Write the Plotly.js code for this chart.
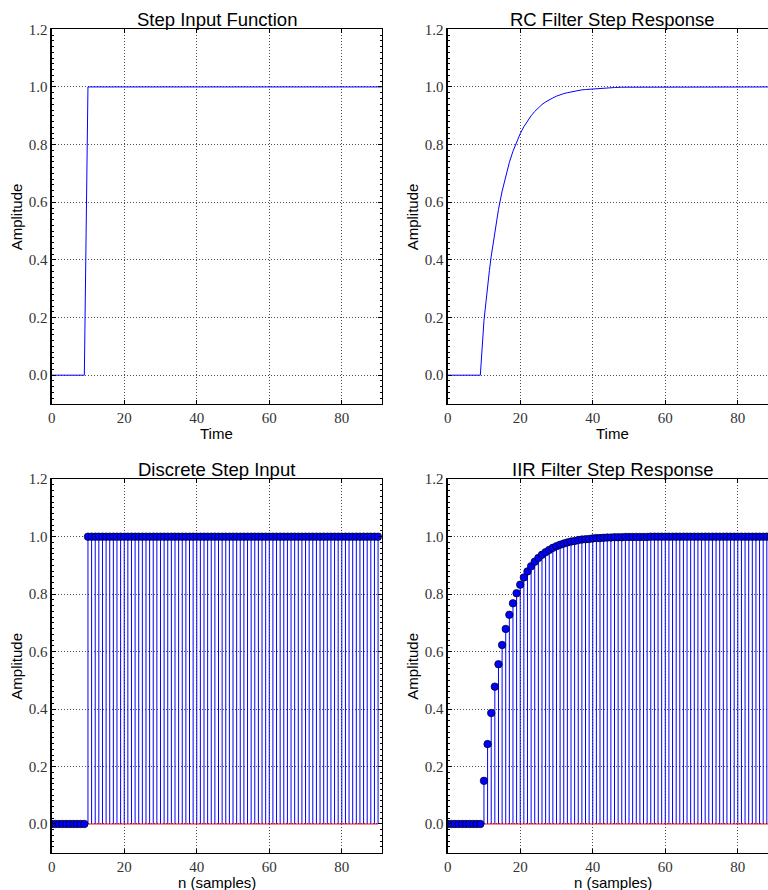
<!DOCTYPE html>
<html>
<head>
<meta charset="utf-8">
<script src="https://cdn.plot.ly/plotly-3.0.1.min.js"></script>
<style>
html,body{margin:0;padding:0;overflow:hidden;background:#fff;width:768px;height:890px;}
#chart{width:800px;height:890px;}
</style>
</head>
<body>
<div id="chart"></div>
<script>
// ---------- data ----------
var titles = ["Step Input Function", "RC Filter Step Response", "Discrete Step Input", "IIR Filter Step Response"];
var xLabels = ["Time", "Time", "n (samples)", "n (samples)"];
var yLabel = "Amplitude";
var xTicks = [0, 20, 40, 60, 80];
var yTicks = [0.0, 0.2, 0.4, 0.6, 0.8, 1.0, 1.2];

// continuous step (corner points)
var stepT = [0, 9, 10, 91];
var stepY = [0, 0, 1, 1];

// continuous RC response
var rcT = [0, 9, 10, 10.5, 11, 11.5, 12, 12.5, 13, 13.5, 14, 15, 16, 17, 18, 19, 20, 21, 22, 23, 24, 25, 26, 27, 28, 29, 30,
           31, 32, 33, 34, 35, 36, 37, 38, 39, 40, 42, 44, 46, 48, 50, 55, 60, 70, 80, 91];
var rcY = [0, 0, 0.189, 0.252, 0.310, 0.363, 0.413, 0.458, 0.500, 0.539, 0.575, 0.638, 0.692, 0.738, 0.777, 0.810, 0.838, 0.862, 0.883,
           0.900, 0.915, 0.928, 0.939, 0.948, 0.956, 0.962, 0.968, 0.973, 0.977, 0.980, 0.983, 0.986, 0.988,
           0.990, 0.991, 0.992, 0.994, 0.995, 0.997, 0.998, 0.999, 0.999, 1.0, 1.0, 1.0, 1.0, 1.0];

// discrete samples
var nSamples = [0,1,2,3,4,5,6,7,8,9,10,11,12,13,14,15,16,17,18,19,20,21,22,23,24,25,26,27,28,29,
                30,31,32,33,34,35,36,37,38,39,40,41,42,43,44,45,46,47,48,49,50,51,52,53,54,55,56,57,58,59,
                60,61,62,63,64,65,66,67,68,69,70,71,72,73,74,75,76,77,78,79,80,81,82,83,84,85,86,87,88,89,90];
var discreteStep = [0,0,0,0,0,0,0,0,0,0,
                    1,1,1,1,1,1,1,1,1,1, 1,1,1,1,1,1,1,1,1,1, 1,1,1,1,1,1,1,1,1,1, 1,1,1,1,1,1,1,1,1,1,
                    1,1,1,1,1,1,1,1,1,1, 1,1,1,1,1,1,1,1,1,1, 1,1,1,1,1,1,1,1,1,1, 1,1,1,1,1,1,1,1,1,1, 1];
var iirResponse = [0,0,0,0,0,0,0,0,0,0,
                   0.150,0.278,0.386,0.478,0.556,0.623,0.679,0.728,0.768,0.803,
                   0.833,0.858,0.879,0.897,0.913,0.926,0.937,0.946,0.954,0.961,
                   0.967,0.972,0.976,0.980,0.983,0.985,0.988,0.990,0.991,0.992,
                   0.994,0.995,0.995,0.996,0.997,0.997,0.998,0.998,0.998,0.999,
                   0.999,0.999,0.999,0.999,0.999,0.999,1,1,1,1,
                   1,1,1,1,1,1,1,1,1,1, 1,1,1,1,1,1,1,1,1,1, 1,1,1,1,1,1,1,1,1,1, 1];

// ---------- layout geometry ----------
var W = 800, H = 890;
var colsPx = [[51.7, 381.7], [447.7, 777.7]];
var rowsPx = [[29.3, 404.0], [479.2, 852.7]];
function xd(c){ return [colsPx[c][0]/W, colsPx[c][1]/W]; }
function yd(r){ return [1 - rowsPx[r][1]/H, 1 - rowsPx[r][0]/H]; }

var tickFont = {family: "Liberation Serif, DejaVu Serif, serif", size: 15, color: "#333"};

function xaxisDef(c, r, anchor){
  return {
    domain: xd(c), anchor: anchor, range: [0, 91],
    tickvals: xTicks, ticktext: xTicks.map(String),
    ticks: "inside", ticklen: 4, tickcolor: "#000", mirror: "allticks",
    showline: true, linecolor: "#000", linewidth: 1.3,
    showgrid: true, gridcolor: "#222", gridwidth: 0.8, griddash: "1px,2px",
    zeroline: false, tickfont: tickFont, fixedrange: true
  };
}
function yaxisDef(c, r, anchor){
  return {
    domain: yd(r), anchor: anchor, range: [-0.1, 1.2],
    tickvals: yTicks, ticktext: yTicks.map(function(v){return v.toFixed(1);}),
    ticks: "inside", ticklen: 4, tickcolor: "#000", mirror: "allticks",
    showline: true, linecolor: "#000", linewidth: 1.3,
    showgrid: true, gridcolor: "#222", gridwidth: 0.8, griddash: "1px,2px",
    zeroline: false, tickfont: tickFont, fixedrange: true,
    minor: {ticks: "inside", ticklen: 2, dtick: 0.02, tickcolor: "#000", showgrid: false}
  };
}

var layout = {
  width: W, height: H, showlegend: false,
  margin: {l: 0, r: 0, t: 0, b: 0},
  paper_bgcolor: "#fff", plot_bgcolor: "#fff",
  xaxis: xaxisDef(0, 0, "y"),   yaxis: yaxisDef(0, 0, "x"),
  xaxis2: xaxisDef(1, 0, "y2"), yaxis2: yaxisDef(1, 0, "x2"),
  xaxis3: xaxisDef(0, 1, "y3"), yaxis3: yaxisDef(0, 1, "x3"),
  xaxis4: xaxisDef(1, 1, "y4"), yaxis4: yaxisDef(1, 1, "x4"),
  annotations: []
};

var titleFont = {family: "Liberation Sans, Arial, sans-serif", size: 18.5, color: "#000"};
var labelFont = {family: "Liberation Sans, Arial, sans-serif", size: 15, color: "#000"};
for (var i = 0; i < 4; i++){
  var c = i % 2, r = Math.floor(i / 2);
  var cx = (colsPx[c][0] + colsPx[c][1]) / 2 / W;
  layout.annotations.push({
    text: titles[i], xref: "paper", yref: "paper", x: cx, y: 1 - rowsPx[r][0]/H,
    xanchor: "center", yanchor: "bottom", yshift: -3, showarrow: false, font: titleFont
  });
  layout.annotations.push({
    text: xLabels[i], xref: "paper", yref: "paper", x: cx, y: 1 - (rowsPx[r][1] + 19)/H,
    xanchor: "center", yanchor: "top", showarrow: false, font: labelFont
  });
  layout.annotations.push({
    text: yLabel, xref: "paper", yref: "paper", x: (colsPx[c][0] - 35)/W,
    y: 1 - (rowsPx[r][0] + rowsPx[r][1]) / 2 / H, textangle: -90,
    xanchor: "center", yanchor: "middle", showarrow: false, font: labelFont
  });
}

// ---------- traces ----------
var traces = [];
traces.push({x: stepT, y: stepY, xaxis: "x", yaxis: "y", mode: "lines",
             line: {color: "#0000ff", width: 1}, hoverinfo: "skip"});
traces.push({x: rcT, y: rcY, xaxis: "x2", yaxis: "y2", mode: "lines",
             line: {color: "#0000ff", width: 1}, hoverinfo: "skip"});

function stemTraces(n, v, xa, ya){
  var sx = [], sy = [];
  for (var k = 0; k < n.length; k++){ sx.push(n[k], n[k], null); sy.push(0, v[k], null); }
  return [
    {x: sx, y: sy, xaxis: xa, yaxis: ya, mode: "lines", line: {color: "#0000ff", width: 1}, hoverinfo: "skip"},
    {x: [n[0], n[n.length-1]], y: [0, 0], xaxis: xa, yaxis: ya, mode: "lines",
     line: {color: "#ff0000", width: 1}, hoverinfo: "skip"},
    {x: n, y: v, xaxis: xa, yaxis: ya, mode: "markers",
     marker: {symbol: "circle", size: 7.5, color: "#0000ff", line: {color: "#000", width: 0.7}}, hoverinfo: "skip"}
  ];
}
traces = traces.concat(stemTraces(nSamples, discreteStep, "x3", "y3"));
traces = traces.concat(stemTraces(nSamples, iirResponse, "x4", "y4"));

Plotly.newPlot("chart", traces, layout, {staticPlot: true, displayModeBar: false});
</script>
</body>
</html>
